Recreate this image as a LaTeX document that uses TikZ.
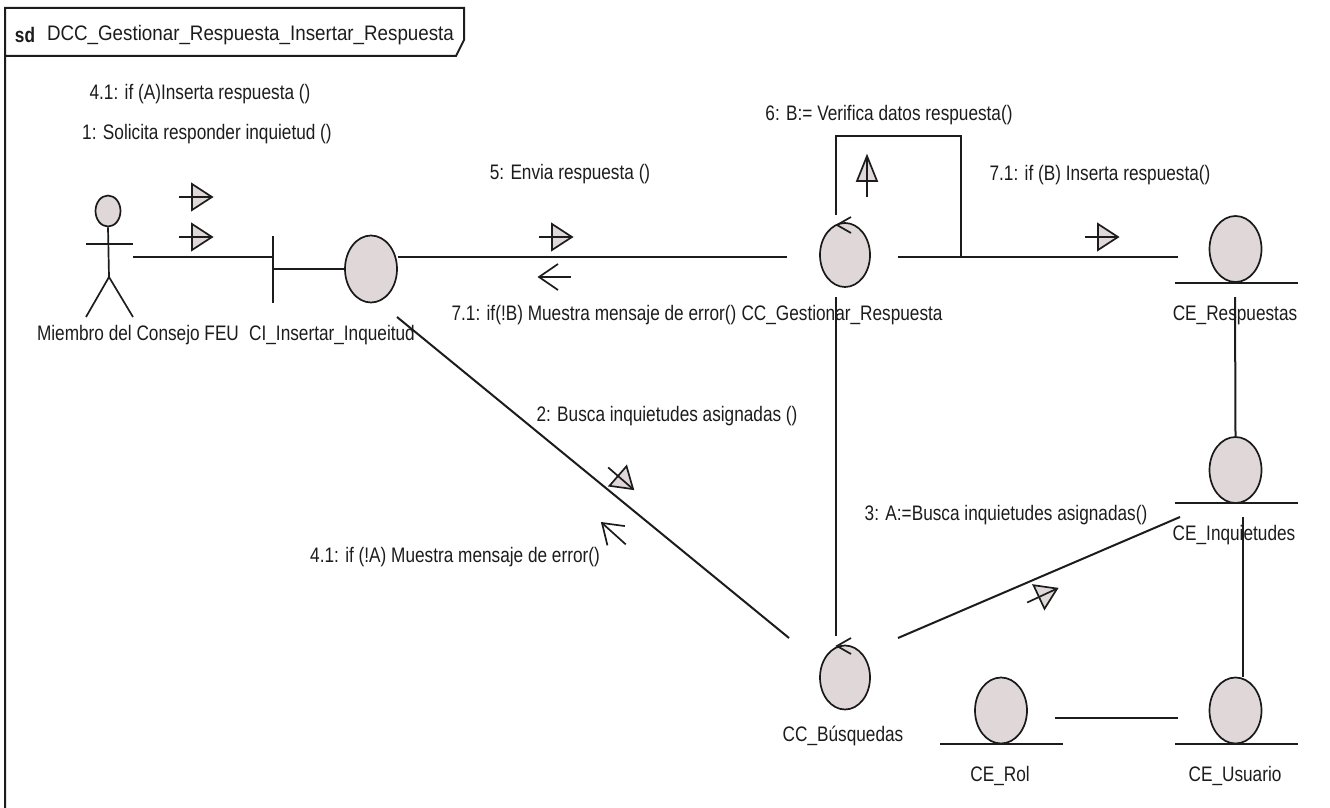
\documentclass[tikz,border=0pt]{standalone}
\usepackage{xcolor}
\usepackage{graphicx}
\usepackage{fontspec}
\setmainfont[FakeStretch=0.82]{Liberation Sans}
\usepackage{tikz}
\usetikzlibrary{shapes.geometric, calc}
\definecolor{rolecolor}{RGB}{224, 216, 216}
\definecolor{inkcolor}{RGB}{28, 28, 28}

\begin{document}
\begin{tikzpicture}[
    x=1pt, y=-1pt,
    link/.style={draw=inkcolor, line width=2pt},
    thin link/.style={draw=inkcolor, line width=1.7pt},
    role/.style={draw=black!90, line width=1.7pt, fill=rolecolor, ellipse, inner sep=0pt, minimum width=#1*2pt},
    role/.default=26,
    lbl/.style={font=\fontsize{21}{21}\selectfont, text=inkcolor, inner sep=0pt, yshift=-2pt},
    msgtip/.pic={
        \draw[thin link, fill=rolecolor] (0,-13) -- (20,0) -- (0,13) -- cycle;
        \draw[thin link] (-13,0) -- (20,0);
    },
    msgback/.pic={
        \draw[thin link] (32,0) -- (0,0);
        \draw[thin link] (19,-13) -- (0,0) -- (19,13);
    },
    ctrltip/.pic={
        \draw[thin link] (14,-8) -- (0,0) -- (14,8);
    }
]
    \useasboundingbox (0,0) rectangle (1330,808);

    % Frame
    \draw[link] (5,808) -- (5,8) -- (464,8) -- (464,40) -- (456,56) -- (5,56);
    \node[lbl, font=\fontsize{21}{21}\selectfont\bfseries] (sd) at (25,33) {sd};
    \node[lbl] (title) at (250.5,33) {\scalebox{1.09}[1]{DCC\_Gestionar\_Respuesta\_Insertar\_Respuesta}};

    % Actor
    \node[role, minimum width=25pt, minimum height=31pt] (actor) at (108,211) {};
    \coordinate (hip) at (109,277);
    \coordinate (armL) at (86,244);
    \coordinate (armR) at (133,244);
    \draw[thin link] (actor.south) -- (hip);
    \draw[thin link] (armL) -- (armR);
    \draw[thin link] (86,317) -- (hip) -- (133,317);
    \node[lbl] (actorlbl) at (138,333) {Miembro del Consejo FEU};

    % Boundary
    \node[role, minimum height=67pt] (bnd) at (371,269) {};
    \coordinate (bndbar) at (273,269);
    \draw[link] (273,236) -- (273,303);
    \draw[link] (bndbar) -- (bnd);
    \node[lbl] (bndlbl) at (332,333) {CI\_Insertar\_Inqueitud};

    % Controls
    \node[role=25, minimum height=64pt] (gest) at (845,255) {};
    \pic at (837,225) {ctrltip};
    \node[lbl] (gestlbl) at (842,313) {CC\_Gestionar\_Respuesta};

    \node[role=25, minimum height=64pt] (busq) at (845,677.5) {};
    \pic at (837,646) {ctrltip};
    \node[lbl] (busqlbl) at (843,734) {CC\_Búsquedas};

    % Entities
    \node[role, minimum height=66pt] (resp) at (1235.5,249) {};
    \node[lbl] (resplbl) at (1235,313) {CE\_Respuestas};
    \draw[link] (1175,283) -- (1298,283);

    \node[role, minimum height=66pt] (inq) at (1235.5,470) {};
    \node[lbl] (inqlbl) at (1234,533) {CE\_Inquietudes};
    \draw[link] (1175,503) -- (1298,503);

    \node[role, minimum height=66pt] (rol) at (1001,710.5) {};
    \node[lbl] (rollbl) at (1000,774) {CE\_Rol};
    \draw[link] (940,744) -- (1063,744);

    \node[role, minimum height=66pt] (user) at (1235.5,710.5) {};
    \node[lbl] (userlbl) at (1235,774) {CE\_Usuario};
    \draw[link] (1175,744) -- (1298,744);

    % Connections
    \coordinate (actorR) at (133,257);
    \coordinate (gestW) at (787,257);
    \coordinate (gestE) at (898,257);
    \coordinate (gestN) at (836,215);
    \coordinate (gestS) at (836,297);
    \coordinate (selfNE) at (961,136);
    \coordinate (respW) at (1178,257);
    \coordinate (respS) at (1235,297);
    \coordinate (inqW) at (1180,517);
    \coordinate (inqS) at (1243,517);
    \coordinate (bndSE) at (397,317);
    \coordinate (busqNW) at (789,638);
    \coordinate (busqNE) at (898,638);
    \coordinate (busqN) at (836,636);
    \coordinate (rolE) at (1055,718);
    \coordinate (userW) at (1178,718);

    \draw[link] (actorR) -- (bndbar |- actorR);
    \draw[link] (bnd.east |- gestW) -- (gestW);
    \draw[link] (gestE) -- (respW);
    \draw[link] (gestN) |- (selfNE) -- (selfNE |- gestE);
    \draw[link] (gestS) -- (busqN);
    \draw[link] (bndSE) -- (busqNW);
    \draw[link] (busqNE) -- (inqW);
    \draw[link] (respS) -- (inq.north);
    \draw[link] (inqS) -- (inqS |- user.north);
    \draw[link] (rolE) -- (userW);

    % Messages
    \pic at (192,197) {msgtip};
    \pic at (192,237) {msgtip};
    \pic at (552,237) {msgtip};
    \pic at (1098,237) {msgtip};
    \pic[rotate=90, xscale=1.25, yscale=0.77] at (867,181) {msgtip};
    \pic[rotate=-41] at (618,476) {msgtip};
    \pic[rotate=25] at (1039,597) {msgtip};
    \pic at (539,277) {msgback};
    \pic[rotate=-42] at (602,523) {msgback};

    % Message labels
    \node[lbl] (msg41a) at (200,92) {4.1: if (A)Inserta respuesta ()};
    \node[lbl] (msg1) at (207,132) {1: Solicita responder inquietud ()};
    \node[lbl] (msg5) at (570,172) {5: Envia respuesta ()};
    \node[lbl] (msg6) at (889,113) {6: B:= Verifica datos respuesta()};
    \node[lbl] (msg71a) at (1100,173) {7.1: if (B) Inserta respuesta()};
    \node[lbl] (msg71b) at (594,313) {7.1: if(!B) Muestra mensaje de error()};
    \node[lbl] (msg2) at (667,414) {2: Busca inquietudes asignadas ()};
    \node[lbl] (msg41b) at (455,555) {4.1: if (!A) Muestra mensaje de error()};
    \node[lbl] (msg3) at (1006,513) {3: A:=Busca inquietudes asignadas()};
\end{tikzpicture}
\end{document}
